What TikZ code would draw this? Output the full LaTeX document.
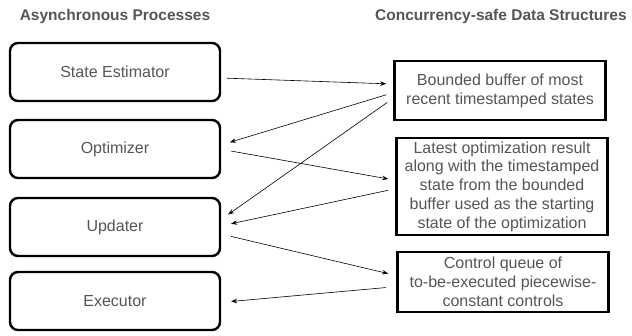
\documentclass[tikz,border=0pt]{standalone}
\usepackage{fontspec}
\setmainfont{Liberation Sans}
\usetikzlibrary{arrows.meta,positioning}
\definecolor{txtgray}{HTML}{555555}

\begin{document}
\begin{tikzpicture}[x=1pt,y=-1pt,->,>={Stealth[length=6pt,width=4.5pt]},shorten >=6pt,shorten <=6pt,semithick,
	proc/.style={draw,-,rounded corners=8pt,line width=2.4pt,minimum width=210pt,minimum height=58pt,text=txtgray,font=\fontsize{16}{19}\selectfont},
	ds/.style={draw,-,line width=2.8pt,minimum width=211pt,text=txtgray,align=center,font=\fontsize{16}{18.8}\selectfont,inner sep=1pt},
	head/.style={text=txtgray,font=\bfseries\fontsize{15.5}{17}\selectfont}]
	\useasboundingbox (0,0) rectangle (632,335);

	\node[head] (hproc) at (115,16) {Asynchronous Processes};
	\node[head] (hds) at (501,16) {Concurrency-safe Data Structures};

	\node[proc] (est) at (115,72) {State Estimator};
	\node[proc] (opt) at (115,149) {Optimizer};
	\node[proc] (upd) at (115,227) {Updater};
	\node[proc] (exe) at (115,301) {Executor};

	\node[ds,minimum height=59pt] (buf) at (500,90.5) {Bounded buffer of most\\recent timestamped states};
	\node[ds,minimum height=97pt] (lat) at (502,186.5) {Latest optimization result\\along with the timestamped\\state from the bounded\\buffer used as the starting\\state of the optimization};
	\node[ds,minimum height=60pt] (ctl) at (503,282) {Control queue of\\to-be-executed piecewise-\\constant controls};

	\draw ([yshift=-6pt]est.east) -- ([yshift=6.5pt,xshift=-1pt]buf.west);
	\draw ([yshift=-2.5pt,xshift=-1pt]buf.west) -- ([yshift=5pt,xshift=3pt]opt.east);
	\draw ([yshift=-8.5pt,xshift=-1pt]buf.west) -- ([yshift=9pt,xshift=2pt]upd.east);
	\draw ([yshift=-1pt,xshift=4pt]opt.east) -- ([yshift=6.5pt,xshift=-1pt]lat.west);
	\draw ([yshift=-2.5pt,xshift=-1pt]lat.west) -- ([yshift=2pt,xshift=4pt]upd.east);
	\draw ([yshift=-8pt,xshift=4pt]upd.east) -- ([yshift=7pt,xshift=-2pt]ctl.west);
	\draw ([yshift=-5pt,xshift=-4pt]ctl.west) -- ([yshift=-1pt,xshift=4pt]exe.east);
\end{tikzpicture}
\end{document}
